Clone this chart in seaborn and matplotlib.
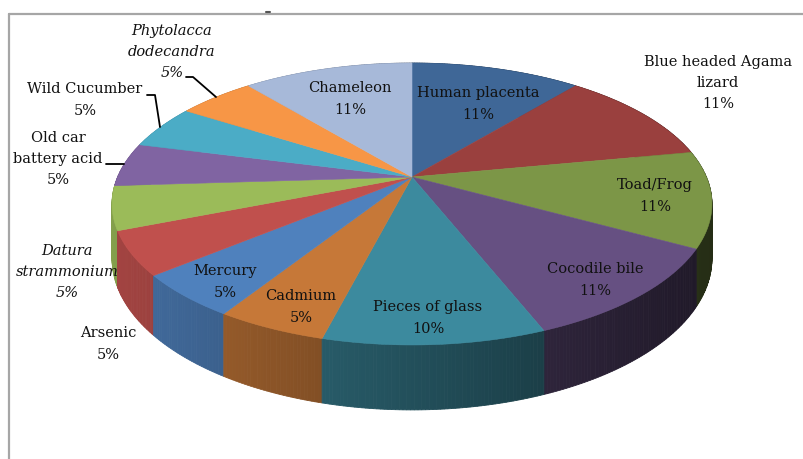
import matplotlib
matplotlib.use("Agg")
import matplotlib.pyplot as plt
import seaborn as sns
import numpy as np

sns.set_style("white")
plt.rcParams['font.family'] = ['DejaVu Serif']

# data, clockwise from 12 o'clock
labels = ["Human placenta", "Blue headed Agama\nlizard", "Toad/Frog", "Cocodile bile",
          "Pieces of glass", "Cadmium", "Mercury", "Arsenic", "Datura\nstrammonium",
          "Old car\nbattery acid", "Wild Cucumber", "Phytolacca\ndodecandra", "Chameleon"]
values = [11, 11, 11, 11, 10, 5, 5, 5, 5, 5, 5, 5, 11]
italic = [False] * 8 + [True, False, False, True, False]
colors = ["#3F6797", "#9A403E", "#7C9647", "#665082", "#3C8A9E", "#C67838",
          "#4F81BD", "#C0504D", "#9BBB59", "#8064A2", "#4BACC6", "#F79646", "#A7B9D9"]

# label block centres (pixels)
label_pos = [(478, 104), (718, 83), (655, 196), (595, 280), (428, 318), (301, 307),
             (225, 282), (108, 344), (67, 272), (58, 159), (85, 100), (172, 52), (350, 99)]

# perspective pie geometry
cx, cy = 412, 177
s, ms, k, h = 294.4, 135.8, 0.1915, 52.5


def rim(theta):
    X, Y = np.sin(theta), np.cos(theta)
    d = 1 + k * Y
    return cx + s * X / d, cy - ms * Y / d, h / d


fig = plt.figure(figsize=(8.04, 4.59), dpi=100)
ax = fig.add_axes([0, 0, 1, 1])
ax.set_xlim(0, 804)
ax.set_ylim(459, 0)
ax.axis("off")

frac = np.array(values) / sum(values)
edges = np.concatenate([[0], np.cumsum(frac)]) * 2 * np.pi

# side walls, back to front
quads = []
for i in range(len(values)):
    th = np.linspace(edges[i], edges[i + 1], max(int((edges[i + 1] - edges[i]) / 0.01), 2))
    for a, b in zip(th[:-1], th[1:]):
        x1, y1, d1 = rim(a)
        x2, y2, d2 = rim(b)
        mid = (a + b) / 2
        shade = 0.85 - 0.55 * ((x1 + x2) / 2 - cx + 300) / 600
        c = np.array(matplotlib.colors.to_rgb(colors[i])) * np.clip(shade, 0.2, 1)
        quads.append((np.cos(mid), [x1, x2, x2, x1], [y1, y2, y2 + d2, y1 + d1], c))
quads.sort(key=lambda q: -q[0])
for _, xs, ys, c in quads:
    ax.fill(xs, ys, color=c, lw=0.6, ec=c)

# top faces
for i in range(len(values)):
    th = np.linspace(edges[i], edges[i + 1], 80)
    xs, ys, _ = rim(th)
    ax.fill(np.r_[cx, xs], np.r_[cy, ys], color=colors[i], ec=colors[i], lw=0.4)

# labels
for i, lab in enumerate(labels):
    txt = f"{lab}\n{round(values[i])}%"
    ax.text(label_pos[i][0], label_pos[i][1], txt, ha="center", va="center",
            fontsize=10.5, style="italic" if italic[i] else "normal",
            linespacing=1.65, color="#111111")

# leader lines
ax.plot([186, 193, 216], [77, 77, 97], color="black", lw=1.3)
ax.plot([147, 155, 160], [95, 95, 127], color="black", lw=1.3)
ax.plot([106, 124], [164, 164], color="black", lw=1.3)

# frame
ax.plot([9.5, 9.5], [14, 459], color="#A6A6A6", lw=1.6)
ax.plot([9.5, 804], [14, 14], color="#A6A6A6", lw=1.6)
ax.plot([266, 270], [12, 12], color="#555555", lw=1.5)

fig.savefig("out.png", dpi=100)
